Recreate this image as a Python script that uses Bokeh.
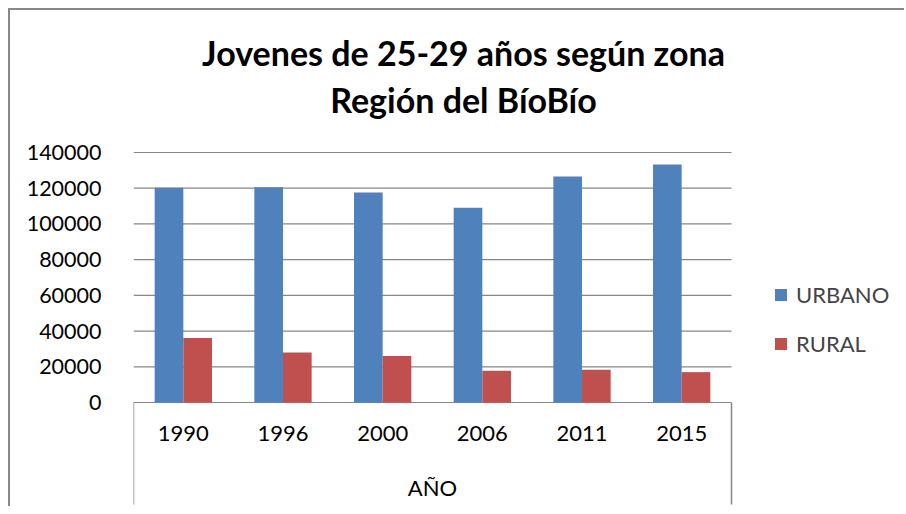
from bokeh.plotting import figure
from bokeh.models import (Range1d, FixedTicker, LinearAxis, Legend,
                          LegendItem, Label, ColumnDataSource, NumeralTickFormatter)
from bokeh.embed import file_html
from bokeh.resources import INLINE

# ---- data ----
years = ["1990", "1996", "2000", "2006", "2011", "2015"]
urbano = [120200, 120500, 117600, 109000, 126500, 133300]
rural = [36100, 28000, 26000, 17800, 18300, 17000]
y_ticks = [0, 20000, 40000, 60000, 80000, 100000, 120000, 140000]
series_names = ["URBANO", "RURAL"]
title_lines = ["Jovenes de 25-29 años según zona", "Región del BíoBío"]
x_title = "AÑO"

# ---- style / geometry (pixels) ----
BLUE = "#4F81BD"
RED = "#C0504D"
GRID = "#878787"
FONT = "Lato"
BAR_W = 0.2875
BOUNDARY_LEN = 102
W, H = 896, 498
LEFT = 123                       # canvas px left of the frame
ZERO_PX = 392                    # px from canvas top down to the value 0
PLOT_W_PX, PLOT_H_PX = 598, 250  # px covered by the categories / by 0..140000

n = len(years)
frame_w = W - LEFT
x_end = n * frame_w / PLOT_W_PX
per_px = y_ticks[-1] / PLOT_H_PX
y_end = ZERO_PX * per_px
y_start = -(H - ZERO_PX) * per_px

# category slot positions (each category occupies one unit on the x scale)
centers = [i + 0.5 for i in range(n)]
src = ColumnDataSource(dict(
    year=years, urbano=urbano, rural=rural,
    x_u=[c - BAR_W / 2 for c in centers],
    x_r=[c + BAR_W / 2 for c in centers],
))
grid_src = ColumnDataSource(dict(x0=[0] * len(y_ticks), x1=[n] * len(y_ticks), y=y_ticks))

p = figure(width=W, height=H, output_backend="svg", toolbar_location=None,
           x_range=Range1d(0, x_end), y_range=Range1d(y_start, y_end),
           x_axis_location=None,
           min_border_left=LEFT, min_border_right=0,
           min_border_top=0, min_border_bottom=0,
           styles={"margin-left": "8px", "margin-top": "8px",
                   "border-left": "2px solid #888888", "border-top": "2px solid #888888"})
p.outline_line_color = None
p.background_fill_color = "white"
p.border_fill_color = "white"
p.title.visible = False
p.xgrid.visible = False
p.ygrid.visible = False

# horizontal gridlines (only across the category area)
p.segment(x0="x0", x1="x1", y0="y", y1="y", source=grid_src,
          line_color=GRID, line_width=1.2)

r_u = p.vbar(x="x_u", top="urbano", width=BAR_W, source=src,
             fill_color=BLUE, line_color=None)
r_r = p.vbar(x="x_r", top="rural", width=BAR_W, source=src,
             fill_color=RED, line_color=None)

# y axis
p.yaxis.ticker = FixedTicker(ticks=y_ticks)
p.yaxis.formatter = NumeralTickFormatter(format="0")
p.yaxis.axis_line_color = None
p.yaxis.major_tick_line_color = None
p.yaxis.minor_tick_line_color = None
p.yaxis.major_label_standoff = 26
p.yaxis.major_label_text_font = FONT
p.yaxis.major_label_text_font_size = "21.5px"
p.yaxis.major_label_text_color = "black"

# x axis pinned at value 0: labels at category centres, boundary lines as long minor ticks
xaxis = LinearAxis(ticker=FixedTicker(ticks=centers, minor_ticks=[0, n]),
                   major_label_overrides={c: y for c, y in zip(centers, years)},
                   fixed_location=0)
xaxis.axis_line_color = None
xaxis.major_tick_line_color = None
xaxis.minor_tick_line_color = GRID
xaxis.minor_tick_line_width = 1.5
xaxis.minor_tick_out = BOUNDARY_LEN
xaxis.minor_tick_in = 0
xaxis.major_label_standoff = 23 - BOUNDARY_LEN
xaxis.major_label_text_font = FONT
xaxis.major_label_text_font_size = "22px"
xaxis.major_label_text_color = "black"
p.add_layout(xaxis, "below")

# title (two lines) and x-axis title, positioned in px from the frame's bottom-left
for txt, yb in zip(title_lines, [456.0, 409.0]):
    p.add_layout(Label(x=330, y=yb, x_units="screen", y_units="screen", text=txt,
                       text_align="center", text_baseline="alphabetic",
                       text_font=FONT, text_font_style="bold",
                       text_font_size="34px", text_color="black"))
p.add_layout(Label(x=299, y=21, x_units="screen", y_units="screen", text=x_title,
                   text_align="center", text_baseline="alphabetic",
                   text_font=FONT, text_font_size="22px", text_color="black"))

legend = Legend(items=[LegendItem(label=series_names[0], renderers=[r_u]),
                       LegendItem(label=series_names[1], renderers=[r_r])],
                location=(640, 151), glyph_width=15, glyph_height=15,
                label_text_font=FONT, label_text_font_size="22px",
                label_standoff=8, spacing=22, padding=0, margin=0,
                border_line_color=None, background_fill_alpha=0)
p.add_layout(legend)

open("out.html", "w").write(file_html(p, INLINE))
